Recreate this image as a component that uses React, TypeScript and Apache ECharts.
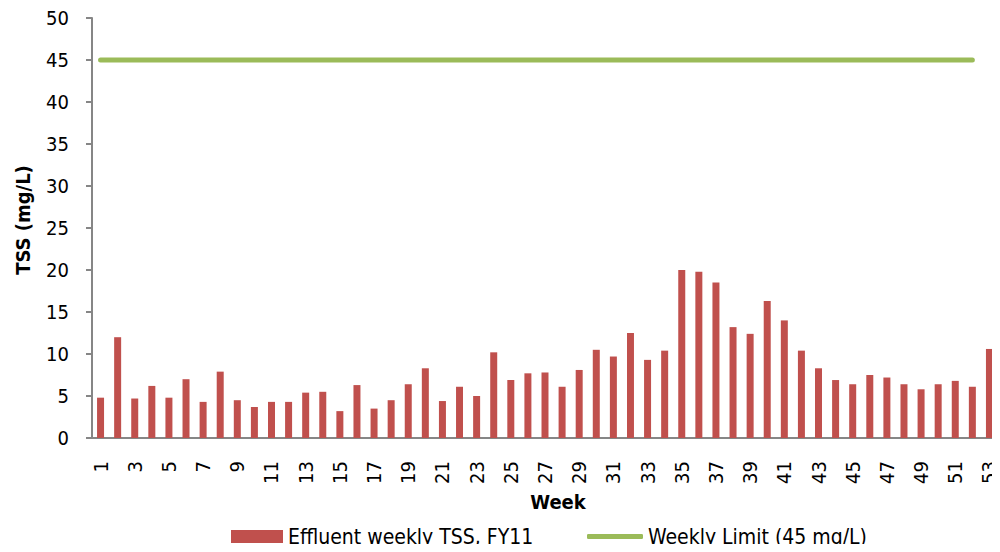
import React, { useEffect, useRef } from "react";
import * as echarts from "echarts";

const weeks = [
  "1", "2", "3", "4", "5", "6", "7", "8", "9", "10", "11", "12", "13", "14", "15", "16", "17", "18",
  "19", "20", "21", "22", "23", "24", "25", "26", "27", "28", "29", "30", "31", "32", "33", "34", "35",
  "36", "37", "38", "39", "40", "41", "42", "43", "44", "45", "46", "47", "48", "49", "50", "51", "52", "53",
];

const tssValues = [
  4.8, 12.0, 4.7, 6.2, 4.8, 7.0, 4.3, 7.9, 4.5, 3.7, 4.3, 4.3, 5.4, 5.5, 3.2, 6.3, 3.5, 4.5,
  6.4, 8.3, 4.4, 6.1, 5.0, 10.2, 6.9, 7.7, 7.8, 6.1, 8.1, 10.5, 9.7, 12.5, 9.3, 10.4, 20.0,
  19.8, 18.5, 13.2, 12.4, 16.3, 14.0, 10.4, 8.3, 6.9, 6.4, 7.5, 7.2, 6.4, 5.8, 6.4, 6.8, 6.1, 10.6,
];

const limitValues = [
  45, 45, 45, 45, 45, 45, 45, 45, 45, 45, 45, 45, 45, 45, 45, 45, 45, 45, 45, 45, 45, 45, 45, 45, 45, 45,
  45, 45, 45, 45, 45, 45, 45, 45, 45, 45, 45, 45, 45, 45, 45, 45, 45, 45, 45, 45, 45, 45, 45, 45, 45, 45,
];

const yTicks = { min: 0, max: 50, interval: 5 };

const barName = "Effluent weekly TSS, FY11";
const lineName = "Weekly Limit (45 mg/L)";

const FONT = "'DejaVu Sans Condensed', 'Open Sans', sans-serif";

export default function App() {
  const ref = useRef<HTMLDivElement>(null);
  useEffect(() => {
    if (!ref.current) return;
    const chart = echarts.init(ref.current, undefined, { renderer: "svg" });
    chart.setOption({
      animation: false,
      backgroundColor: "#ffffff",
      textStyle: { fontFamily: FONT },
      grid: { left: 92, right: 2, top: 18, bottom: 114, containLabel: false },
      legend: [
        {
          left: 231,
          top: 526,
          itemWidth: 52,
          itemHeight: 13,
          padding: 0,
          textStyle: { fontSize: 21, color: "#000", fontFamily: FONT },
          data: [{ name: barName, icon: "rect" }],
        },
        {
          left: 587,
          top: 526,
          itemWidth: 56,
          itemHeight: 5,
          padding: 0,
          textStyle: { fontSize: 21, color: "#000", fontFamily: FONT },
          data: [{ name: lineName, icon: "roundRect" }],
        },
      ],
      xAxis: {
        type: "category",
        data: weeks,
        name: "Week",
        nameLocation: "middle",
        nameGap: 54,
        nameTextStyle: {
          fontSize: 20,
          fontWeight: "bold",
          color: "#000",
          fontFamily: FONT,
          padding: [0, 0, 0, 26],
        },
        axisLine: { lineStyle: { color: "#868686", width: 2 } },
        axisTick: { alignWithLabel: false, interval: 0, length: 6, lineStyle: { color: "#868686", width: 2 } },
        axisLabel: { interval: 1, rotate: 90, fontSize: 20, color: "#000", margin: 23, fontFamily: FONT },
      },
      yAxis: {
        type: "value",
        min: yTicks.min,
        max: yTicks.max,
        interval: yTicks.interval,
        name: "TSS (mg/L)",
        nameLocation: "middle",
        nameGap: 59,
        nameTextStyle: {
          fontSize: 20,
          fontWeight: "bold",
          color: "#000",
          fontFamily: FONT,
          padding: [0, 0, 0, 16],
        },
        splitLine: { show: false },
        axisLine: { show: true, lineStyle: { color: "#868686", width: 2 } },
        axisTick: { show: true, length: 6, lineStyle: { color: "#868686", width: 2 } },
        axisLabel: { fontSize: 20, color: "#000", margin: 23, fontFamily: FONT },
      },
      series: [
        {
          name: barName,
          type: "bar",
          data: tssValues,
          barWidth: 7,
          itemStyle: { color: "#C0504D" },
        },
        {
          name: lineName,
          type: "line",
          data: limitValues,
          symbol: "none",
          showSymbol: false,
          lineStyle: { color: "#9BBB59", width: 5, cap: "round" },
          itemStyle: { color: "#9BBB59" },
        },
      ],
    });
    return () => chart.dispose();
  }, []);
  return <div ref={ref} style={{ width: 1000, height: 552, margin: -8 }} />;
}
